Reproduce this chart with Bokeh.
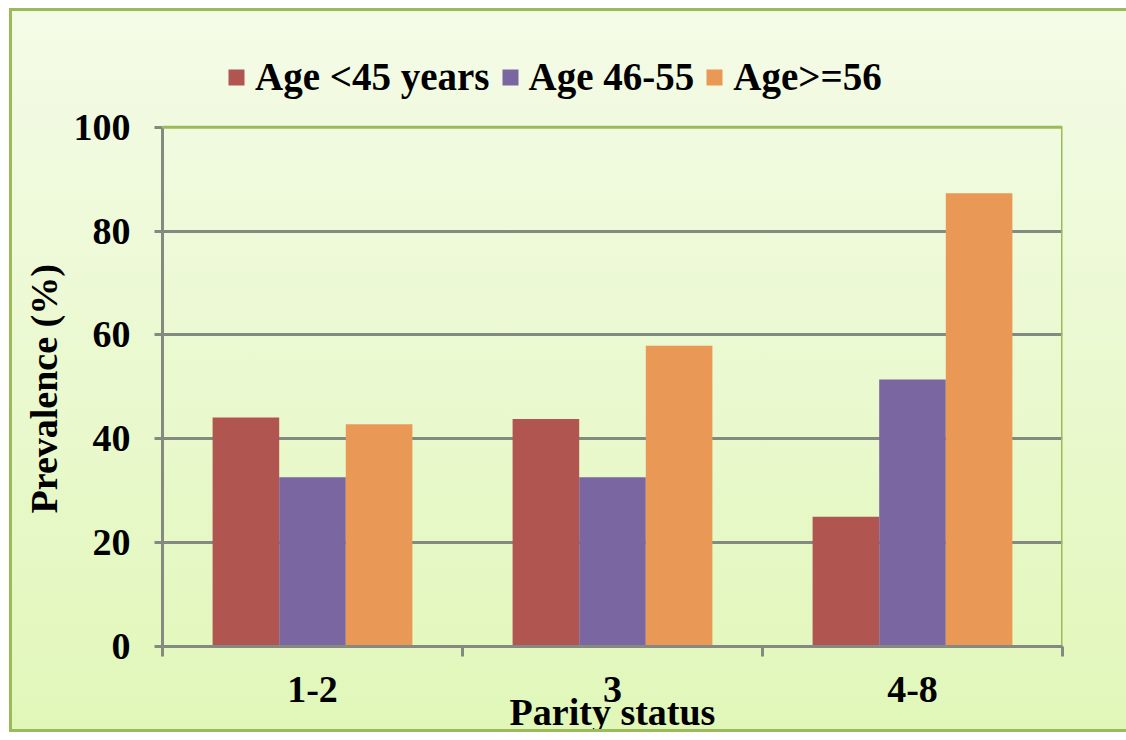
from bokeh.plotting import figure
from bokeh.models import Range1d, FixedTicker, Legend, LegendItem, ColumnDataSource, Span, Title
from bokeh.transform import dodge
from bokeh.embed import file_html
from bokeh.resources import INLINE

categories = ["1-2", "3", "4-8"]
series_names = ["Age <45 years", "Age 46-55", "Age>=56"]
age_lt45 = [44.1, 43.8, 25.0]
age_46_55 = [32.6, 32.6, 51.4]
age_ge56 = [42.8, 57.9, 87.3]
y_ticks = [0, 20, 40, 60, 80, 100]
colors = ["#b05550", "#7a66a0", "#e99856"]

FONT = "Liberation Serif"
FS = "38px"
GRAY = "#858a80"
GREEN = "#9bbb59"

# layout (canvas pixels; canvas origin sits at page (12, 11))
W, H = 1117, 724
FRAME_LEFT, FRAME_TOP, FRAME_RIGHT, FRAME_BOTTOM = 150, 19, 1050, 637
AXIS_TOP = 116          # pixel where y = 100 sits
y_max = y_ticks[-1]
y_end = y_max * (FRAME_BOTTOM - FRAME_TOP) / (FRAME_BOTTOM - AXIS_TOP)

x_pos = [i + 0.5 for i in range(len(categories))]
src = ColumnDataSource(dict(x=x_pos, a=age_lt45, b=age_46_55, c=age_ge56))

p = figure(width=W, height=H, x_range=Range1d(0, len(categories)),
           y_range=Range1d(0, y_end), output_backend="svg", toolbar_location=None,
           min_border_left=FRAME_LEFT, min_border_top=FRAME_TOP,
           min_border_right=W - FRAME_RIGHT, min_border_bottom=H - FRAME_BOTTOM)
p.background_fill_alpha = 0
p.border_fill_alpha = 0
p.outline_line_color = None
p.styles = {"background": "linear-gradient(#f4fbe7, #e1f7b9)",
            "margin-left": "9px", "margin-top": "8px",
            "border-left": "3px solid #9bbb59",
            "border-top": "3px solid #9bbb59",
            "border-bottom": "3px solid #9bbb59"}

w = 0.222
renderers = []
for col, off, color in zip(["a", "b", "c"], [-w, 0, w], colors):
    r = p.vbar(x=dodge("x", off), top=col, width=w, source=src,
               fill_color=color, line_color=None)
    renderers.append(r)

p.xgrid.visible = False
p.ygrid.ticker = FixedTicker(ticks=[20, 40, 60, 80])
p.ygrid.grid_line_color = GRAY
p.ygrid.grid_line_width = 3

# plot-area border (top and right, green)
p.add_layout(Span(location=y_max, dimension="width", line_color=GREEN, line_width=3))
p.segment(x0=[len(categories)], y0=[0], x1=[len(categories)], y1=[y_max],
          line_color=GREEN, line_width=3)

# x axis
xa = p.xaxis[0]
xa.ticker = FixedTicker(ticks=x_pos, minor_ticks=list(range(len(categories) + 1)))
xa.major_label_overrides = {x: c for x, c in zip(x_pos, categories)}
xa.major_tick_line_color = None
xa.major_tick_out = 0
xa.minor_tick_out = 10
xa.minor_tick_in = 0
xa.minor_tick_line_color = GRAY
xa.minor_tick_line_width = 3
xa.axis_line_color = GRAY
xa.axis_line_width = 3
xa.major_label_standoff = 20
xa.major_label_text_font = FONT
xa.major_label_text_font_style = "bold"
xa.major_label_text_font_size = FS
xa.major_label_text_color = "black"
xa.axis_label = "Parity status"
xa.axis_label_text_font = FONT
xa.axis_label_text_font_style = "bold"
xa.axis_label_text_font_size = FS
xa.axis_label_text_color = "black"
xa.axis_label_standoff = -14

# y axis
ya = p.yaxis[0]
ya.ticker = FixedTicker(ticks=y_ticks)
ya.bounds = (0, y_max)
ya.major_tick_out = 8
ya.major_tick_in = 0
ya.major_tick_line_color = GRAY
ya.major_tick_line_width = 3
ya.minor_tick_line_color = None
ya.axis_line_color = GRAY
ya.axis_line_width = 3
ya.major_label_standoff = 24
ya.major_label_text_font = FONT
ya.major_label_text_font_style = "bold"
ya.major_label_text_font_size = FS
ya.major_label_text_color = "black"

ytitle = Title(text="Prevalence (%)", align="left", offset=133,
               text_font=FONT, text_font_style="bold", text_font_size=FS,
               text_color="black", standoff=11)
p.add_layout(ytitle, "left")

legend = Legend(items=[LegendItem(label=n, renderers=[r]) for n, r in zip(series_names, renderers)],
                orientation="horizontal", location=(64, FRAME_BOTTOM - 90),
                glyph_width=20, glyph_height=20, label_standoff=9, spacing=10,
                padding=0, margin=0, border_line_color=None,
                background_fill_alpha=0,
                label_text_font=FONT, label_text_font_style="bold",
                label_text_font_size="39px", label_text_color="black")
p.add_layout(legend, "center")

open("out.html", "w").write(file_html(p, INLINE))
